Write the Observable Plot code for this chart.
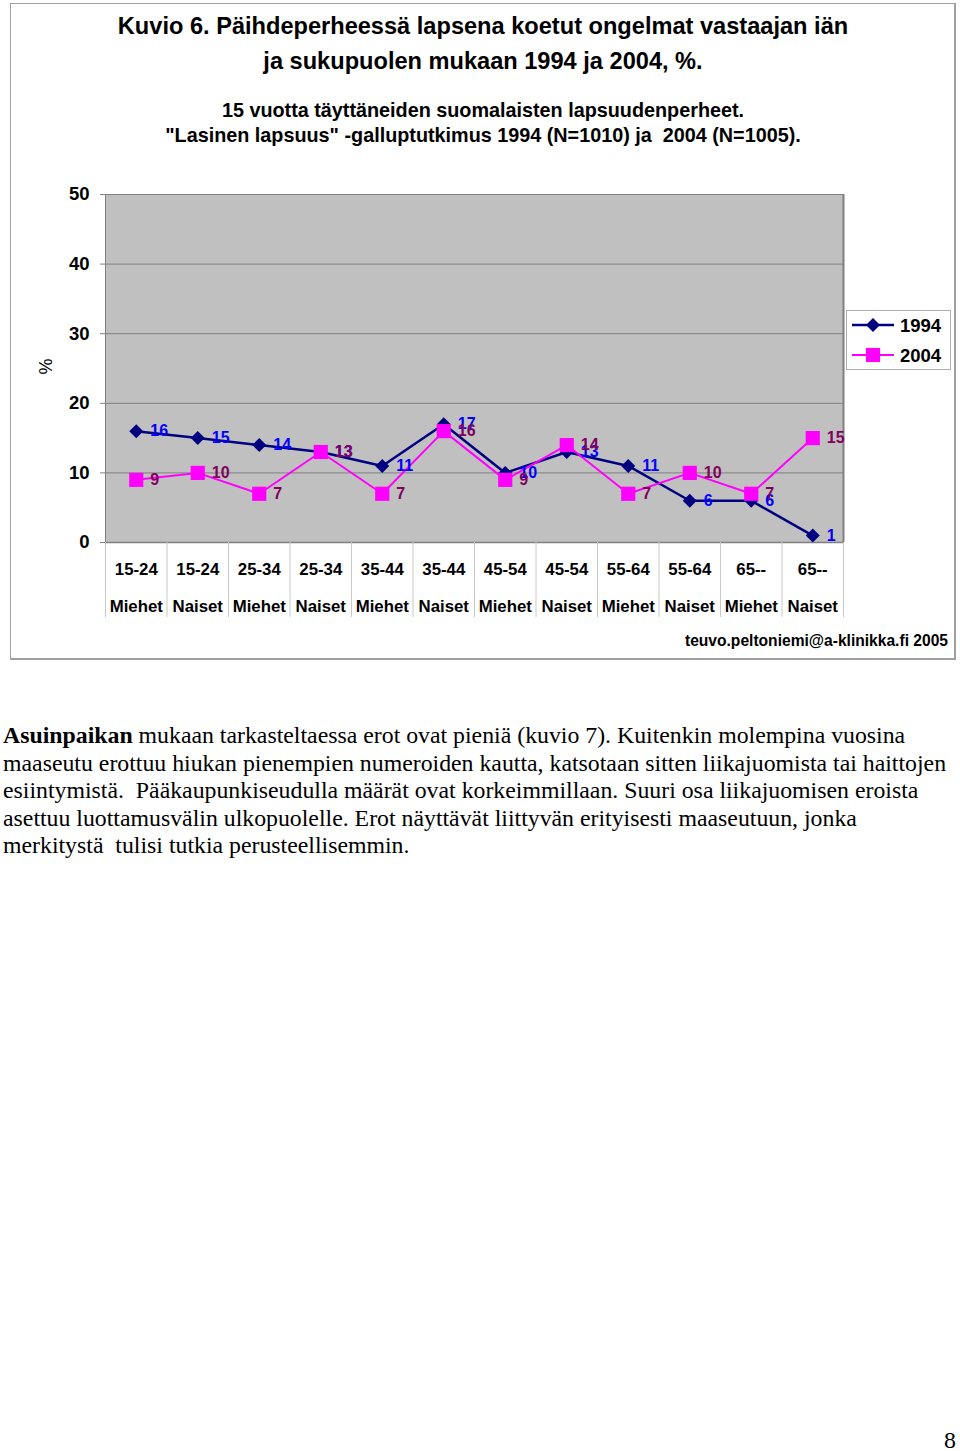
<!DOCTYPE html>
<html>
<head>
<meta charset="utf-8">
<script src="https://cdn.jsdelivr.net/npm/d3@7"></script>
<script src="https://cdn.jsdelivr.net/npm/@observablehq/plot@0.6"></script>
<style>
  html, body { margin: 0; padding: 0; background: #fff; }
  body { width: 960px; height: 1451px; position: relative; overflow: hidden; font-family: "Liberation Sans", Arial, sans-serif; }
  .abs { position: absolute; }
  #frame { left: 10px; top: 3px; width: 943px; height: 654px; border: 1px solid #a0a0a0; border-right: 2px solid #a0a0a0; border-bottom: 2px solid #a0a0a0; }
  .title { left: 0; width: 966px; text-align: center; font-weight: bold; font-size: 23.6px; line-height: 28px; color: #000; white-space: nowrap; }
  .sub { left: 0; width: 966px; text-align: center; font-weight: bold; font-size: 19.8px; line-height: 24px; color: #000; white-space: nowrap; }
  #chart { left: 0; top: 0; }
  #email { right: 12px; top: 632px; font-weight: bold; font-size: 15.6px; white-space: nowrap; }
  #legend { left: 846px; top: 310px; }
  #body { left: 3px; top: 722px; font-family: "Liberation Serif", "Times New Roman", serif; font-size: 23.8px; line-height: 27.5px; white-space: nowrap; color: #000; }
  #page { left: 944px; top: 1427px; font-family: "Liberation Serif", "Times New Roman", serif; font-size: 23.8px; }
</style>
</head>
<body>
<div id="frame" class="abs"></div>
<div id="chart" class="abs"></div>
<div class="abs title" style="top:12px">Kuvio 6. Päihdeperheessä lapsena koetut ongelmat vastaajan iän</div>
<div class="abs title" style="top:47px">ja sukupuolen mukaan 1994 ja 2004, %.</div>
<div class="abs sub" style="top:98px">15 vuotta täyttäneiden suomalaisten lapsuudenperheet.</div>
<div class="abs sub" style="top:123px">"Lasinen lapsuus" -galluptutkimus 1994 (N=1010) ja&nbsp; 2004 (N=1005).</div>
<div id="legend" class="abs"></div>
<div id="email" class="abs">teuvo.peltoniemi@a-klinikka.fi 2005</div>
<div id="body" class="abs"><b>Asuinpaikan</b> mukaan tarkasteltaessa erot ovat pieniä (kuvio 7). Kuitenkin molempina vuosina<br>maaseutu erottuu hiukan pienempien numeroiden kautta, katsotaan sitten liikajuomista tai haittojen<br>esiintymistä.&nbsp; Pääkaupunkiseudulla määrät ovat korkeimmillaan. Suuri osa liikajuomisen eroista<br>asettuu luottamusvälin ulkopuolelle. Erot näyttävät liittyvän erityisesti maaseutuun, jonka<br>merkitystä&nbsp; tulisi tutkia perusteellisemmin.</div>
<div id="page" class="abs">8</div>
<script>
const ageGroups = ["15-24","15-24","25-34","25-34","35-44","35-44","45-54","45-54","55-64","55-64","65--","65--"];
const sexes = ["Miehet","Naiset","Miehet","Naiset","Miehet","Naiset","Miehet","Naiset","Miehet","Naiset","Miehet","Naiset"];
const values1994 = [16,15,14,13,11,17,10,13,11,6,6,1];
const values2004 = [9,10,7,13,7,16,9,14,7,10,7,15];
const yTicks = [0,10,20,30,40,50];
const seriesNames = ["1994","2004"];

const color1994 = "#000080", color2004 = "#ff00ff";
const label1994 = "#0000ff", label2004 = "#800060";

const d1994 = values1994.map((v,i) => ({i: i + 0.5, value: v}));
const d2004 = values2004.map((v,i) => ({i: i + 0.5, value: v}));
const catIdx = ageGroups.map((_, i) => i + 0.5);

const chart = Plot.plot({
  width: 960,
  height: 660,
  marginLeft: 105,
  marginRight: 117,
  marginTop: 194,
  marginBottom: 118,
  style: {fontFamily: "'Liberation Sans', Arial, sans-serif", background: "transparent", overflow: "visible"},
  x: {domain: [0, ageGroups.length], axis: null},
  y: {domain: [0, 50], axis: null},
  marks: [
    Plot.frame({fill: "#c0c0c0", stroke: "#9a9a9a"}),
    Plot.gridY(yTicks.slice(1), {stroke: "#808080", strokeOpacity: 1}),
    Plot.ruleY([0], {stroke: "#808080", strokeWidth: 1.5}),
    Plot.ruleX([0], {stroke: "#808080"}),
    Plot.ruleX([ageGroups.length], {stroke: "#808080", strokeWidth: 2}),
    Plot.axisY({ticks: yTicks, tickSize: 5, tickPadding: 11, fontSize: 18.5, fontWeight: "bold", stroke: "#808080", fill: "#000", label: null, tickFormat: d => d}),
    Plot.axisX({ticks: d3.range(ageGroups.length + 1), tickSize: 75, tickFormat: () => "", stroke: "#c8c8c8", label: null}),
    Plot.text(ageGroups, {x: (d,i) => catIdx[i], frameAnchor: "bottom", dy: 32, text: d => d, fontSize: 16.8, fontWeight: "bold", fill: "#000"}),
    Plot.text(sexes, {x: (d,i) => catIdx[i], frameAnchor: "bottom", dy: 69, text: d => d, fontSize: 16.8, fontWeight: "bold", fill: "#000"}),
    Plot.text(["%"], {frameAnchor: "left", dx: -59, dy: 6, rotate: -90, fontSize: 18, fill: "#000", text: d => d}),
    Plot.line(d1994, {x: "i", y: "value", stroke: color1994, strokeWidth: 2.5}),
    Plot.dot(d1994, {x: "i", y: "value", symbol: "diamond2", r: 6.3, fill: color1994, stroke: "none"}),
    Plot.line(d2004, {x: "i", y: "value", stroke: color2004, strokeWidth: 2}),
    Plot.dot(d2004, {x: "i", y: "value", symbol: "square", r: 8, fill: color2004, stroke: "none"}),
    Plot.text(d1994, {x: "i", y: "value", text: d => String(d.value), dx: 14, textAnchor: "start", fill: label1994, fontSize: 16, fontWeight: "bold"}),
    Plot.text(d2004, {x: "i", y: "value", text: d => String(d.value), dx: 14, textAnchor: "start", fill: label2004, fontSize: 16, fontWeight: "bold"})
  ]
});
document.getElementById("chart").appendChild(chart);

// legend
const lg = d3.select("#legend").append("svg").attr("width", 106).attr("height", 61)
  .style("font-family", "'Liberation Sans', Arial, sans-serif");
lg.append("rect").attr("x", 0.5).attr("y", 0.5).attr("width", 104).attr("height", 59).attr("fill", "#fff").attr("stroke", "#b0b0b0");
const entries = [
  {name: seriesNames[0], color: color1994, sym: d3.symbolDiamond2, size: 125, w: 2.5},
  {name: seriesNames[1], color: color2004, sym: d3.symbolSquare, size: 200, w: 2}
];
entries.forEach((e, k) => {
  const y = 15 + k * 30;
  lg.append("line").attr("x1", 6).attr("x2", 48).attr("y1", y).attr("y2", y).attr("stroke", e.color).attr("stroke-width", e.w);
  lg.append("path").attr("d", d3.symbol(e.sym, e.size)()).attr("transform", `translate(27,${y})`).attr("fill", e.color);
  lg.append("text").attr("x", 54).attr("y", y).attr("dy", "0.36em").attr("font-size", 18.5).attr("font-weight", "bold").text(e.name);
});
</script>
</body>
</html>
